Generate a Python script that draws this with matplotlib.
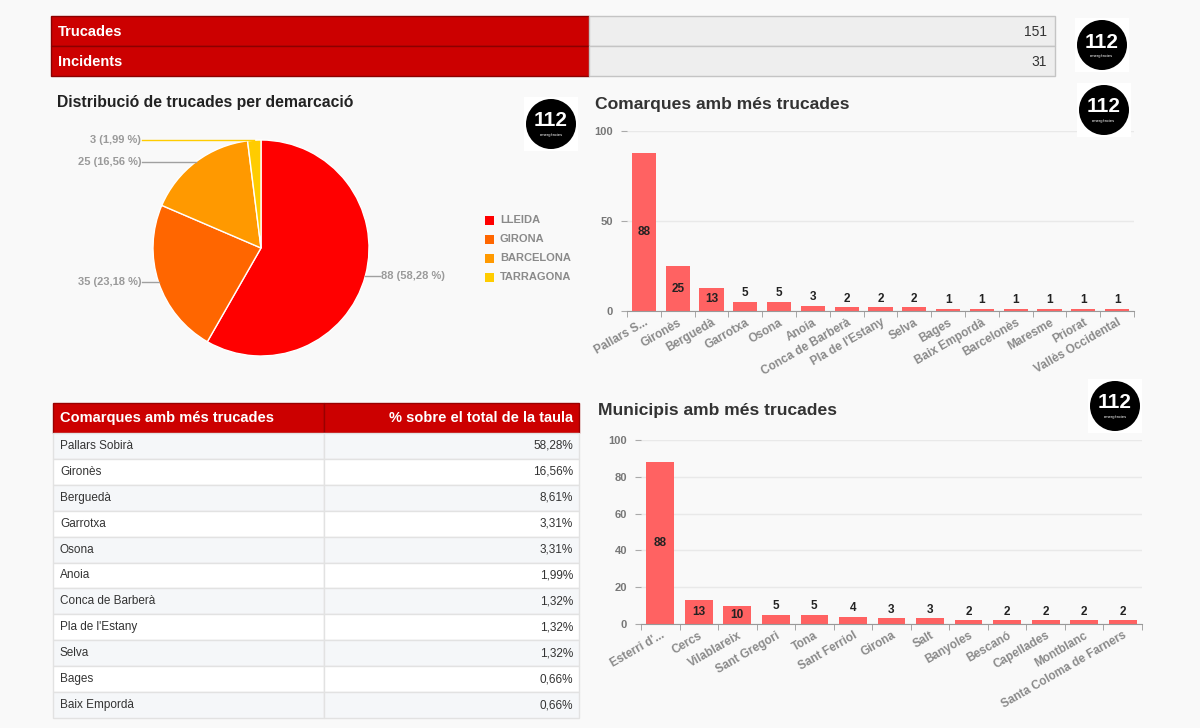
import numpy as np
import matplotlib
matplotlib.use("Agg")
import matplotlib.pyplot as plt
from matplotlib.patches import Rectangle, Circle

plt.rcParams['font.family'] = ['Liberation Sans', 'DejaVu Sans']

# --- dades ---
resum_labels = ['Trucades', 'Incidents']
resum_valors = [151, 31]

demarcacions = ['LLEIDA', 'GIRONA', 'BARCELONA', 'TARRAGONA']
trucades_dem = [88, 35, 25, 3]
etiquetes_dem = ['88 (58,28 %)', '35 (23,18 %)', '25 (16,56 %)', '3 (1,99 %)']
colors_dem = ['#ff0000', '#ff6600', '#ff9900', '#ffcc00']

comarques = ['Pallars S...', 'Gironès', 'Berguedà', 'Garrotxa', 'Osona', 'Anoia',
             'Conca de Barberà', "Pla de l'Estany", 'Selva', 'Bages', 'Baix Empordà',
             'Barcelonès', 'Maresme', 'Priorat', 'Vallès Occidental']
trucades_com = [88, 25, 13, 5, 5, 3, 2, 2, 2, 1, 1, 1, 1, 1, 1]

municipis = ["Esterri d'...", 'Cercs', 'Vilablareix', 'Sant Gregori', 'Tona', 'Sant Ferriol',
             'Girona', 'Salt', 'Banyoles', 'Bescanó', 'Capellades', 'Montblanc',
             'Santa Coloma de Farners']
trucades_mun = [88, 13, 10, 5, 5, 4, 3, 3, 2, 2, 2, 2, 2]

taula_comarques = ['Pallars Sobirà', 'Gironès', 'Berguedà', 'Garrotxa', 'Osona', 'Anoia',
                   'Conca de Barberà', "Pla de l'Estany", 'Selva', 'Bages', 'Baix Empordà']
taula_percent = ['58,28%', '16,56%', '8,61%', '3,31%', '3,31%', '1,99%',
                 '1,32%', '1,32%', '1,32%', '0,66%', '0,66%']

W, H = 1200, 728
fig = plt.figure(figsize=(12, 7.28), dpi=100, facecolor='#f9f9f9')


def px_axes(x0, y0, x1, y1, **kw):
    # caixa en pixels (origen a dalt a l'esquerra)
    return fig.add_axes([x0 / W, 1 - y1 / H, (x1 - x0) / W, (y1 - y0) / H], **kw)


# --- PASTÍS ---
cx, cy, r = 261, 248, 108
axp = px_axes(30, 120, 480, 370)
wedges, _ = axp.pie(trucades_dem, colors=colors_dem, startangle=90, counterclock=False,
                    wedgeprops=dict(edgecolor='white', linewidth=1))
axp.set_xlim((30 - cx) / r, (480 - cx) / r)
axp.set_ylim((cy - 370) / r, (cy - 120) / r)
axp.set_aspect('auto')
axp.axis('off')
for w, txt, col in zip(wedges, etiquetes_dem, colors_dem):
    ang = np.deg2rad((w.theta1 + w.theta2) / 2)
    ex, ey = np.cos(ang), np.sin(ang)
    lcol = col if col == '#ffcc00' else '#a0a0a0'
    if ex > 0:
        axp.plot([ex, 1.10], [ey, ey], color=lcol, lw=1)
        axp.text(1.11, ey, txt, ha='left', va='center', color='#9a9a9a', fontsize=8, fontweight='bold')
    else:
        axp.plot([-1.10, ex], [ey, ey], color=lcol, lw=1)
        axp.text(-1.11, ey, txt, ha='right', va='center', color='#9a9a9a', fontsize=8, fontweight='bold')


# --- BARRES ---
def barres(ax, labels, values, yticks):
    n = len(values)
    x = np.arange(n)
    ax.bar(x, values, width=0.72, color='#ff6262', zorder=2)
    ax.set_xlim(-0.5, n - 0.5)
    ax.set_ylim(0, 100)
    ax.set_facecolor('none')
    ax.set_yticks(yticks)
    ax.grid(axis='y', color='#e9e9e9', lw=1, zorder=0)
    for s in ['top', 'right', 'left']:
        ax.spines[s].set_visible(False)
    ax.spines['bottom'].set_color('#999999')
    ax.tick_params(axis='y', length=4, color='#aaaaaa', labelcolor='#777777', labelsize=8, pad=6)
    for t in ax.get_yticklabels():
        t.set_fontweight('bold')
    ax.set_xticks(x)
    ax.set_xticklabels(labels, rotation=30, ha='right', rotation_mode='anchor',
                       color='#8a8a8a', fontsize=8.5, fontweight='bold')
    ax.tick_params(axis='x', length=0, pad=4)
    ax.set_xticks(np.arange(-0.5, n), minor=True)
    ax.tick_params(axis='x', which='minor', length=4, color='#999999')
    for i, v in enumerate(values):
        if v >= 10:
            ax.text(i, v / 2, str(v), ha='center', va='center', fontsize=8.5,
                    fontweight='bold', color='#222222', zorder=3)
        else:
            ax.annotate(str(v), (i, v), xytext=(0, 2), textcoords='offset points',
                        ha='center', va='bottom', fontsize=8.5, fontweight='bold', color='#222222')


ax1 = px_axes(627, 131, 1134, 311)
barres(ax1, comarques, trucades_com, [0, 50, 100])

ax2 = px_axes(641, 440, 1142, 624)
barres(ax2, municipis, trucades_mun, [0, 20, 40, 60, 80, 100])

# --- capa de dibuix en pixels ---
ov = fig.add_axes([0, 0, 1, 1], zorder=10)
ov.set_xlim(0, W)
ov.set_ylim(H, 0)
ov.axis('off')
ov.patch.set_alpha(0)

# taula resum
for i, (lab, val) in enumerate(zip(resum_labels, resum_valors)):
    y0 = 16 + i * 30
    ov.add_patch(Rectangle((51, y0), 538, 30, fc='#cc0000', ec='#8b0000', lw=1))
    ov.add_patch(Rectangle((589, y0), 466, 30, fc='#eeeeee', ec='#c4c4c4', lw=1))
    ov.text(58, y0 + 16, lab, color='white', fontweight='bold', fontsize=10.5, va='center')
    ov.text(1047, y0 + 16, str(val), color='#333333', fontsize=10, va='center', ha='right')


def logo(x, y, rad=25):
    ov.add_patch(Rectangle((x - rad - 2, y - rad - 2), 2 * rad + 4, 2 * rad + 4, fc='white', ec='none'))
    ov.add_patch(Circle((x, y), rad, fc='black', ec='none'))
    ov.text(x, y - 3, '112', color='white', fontweight='bold', fontsize=15, ha='center', va='center',
            family=['Liberation Sans Narrow', 'Liberation Sans', 'DejaVu Sans'])
    ov.text(x, y + 11, 'emergències', color='white', fontsize=3, ha='center', va='center')


logo(1102, 45)
logo(551, 124)
logo(1104, 110)
logo(1115, 406)

# titols
ov.text(57, 103, 'Distribució de trucades per demarcació', fontsize=11.3, fontweight='bold',
        color='#222222', va='center')
ov.text(595, 105, 'Comarques amb més trucades', fontsize=12.6, fontweight='bold',
        color='#333333', va='center')
ov.text(598, 411, 'Municipis amb més trucades', fontsize=12.6, fontweight='bold',
        color='#333333', va='center')

# llegenda del pastís
for i, (nom, col) in enumerate(zip(demarcacions, colors_dem)):
    yy = 220 + i * 19
    ov.add_patch(Rectangle((485, yy - 4.5), 9, 9, fc=col, ec='none'))
    ov.text(500, yy, nom, color='#8a8a8a', fontsize=8, fontweight='bold', va='center')

# taula de comarques
ov.add_patch(Rectangle((53, 403), 271, 30, fc='#cc0000', ec='#990000', lw=1))
ov.add_patch(Rectangle((324, 403), 255, 30, fc='#cc0000', ec='#990000', lw=1))
ov.text(60, 418, 'Comarques amb més trucades', color='white', fontweight='bold', fontsize=10.5, va='center')
ov.text(573, 418, '% sobre el total de la taula', color='white', fontweight='bold', fontsize=10.5,
        va='center', ha='right')
rh = (718 - 433) / len(taula_comarques)
for i, (nom, pct) in enumerate(zip(taula_comarques, taula_percent)):
    y0 = 433 + i * rh
    fc = '#f5f7f9' if i % 2 == 0 else 'white'
    ov.add_patch(Rectangle((53, y0), 271, rh, fc=fc, ec='#e2e2e2', lw=1))
    ov.add_patch(Rectangle((324, y0), 255, rh, fc=fc, ec='#e2e2e2', lw=1))
    ov.text(60, y0 + rh / 2, nom, color='#333333', fontsize=8.5, va='center')
    ov.text(573, y0 + rh / 2, pct, color='#333333', fontsize=8.5, va='center', ha='right')

fig.savefig('out.png', dpi=100, facecolor=fig.get_facecolor())
